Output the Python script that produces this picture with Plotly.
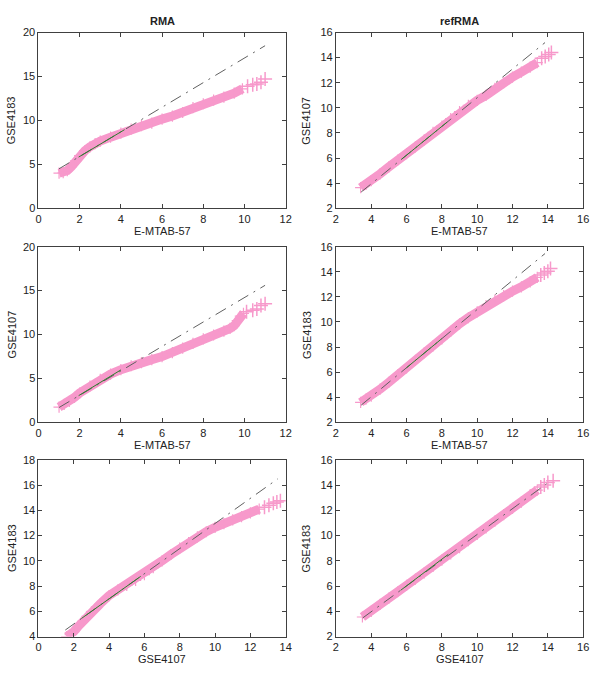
import plotly.graph_objects as go

# ---------------- data ----------------
col_titles = ["RMA", "refRMA"]
x_labels = ["E-MTAB-57", "E-MTAB-57", "E-MTAB-57", "E-MTAB-57", "GSE4107", "GSE4107"]
y_labels = ["GSE4183", "GSE4107", "GSE4107", "GSE4183", "GSE4183", "GSE4183"]

# Panel 1: RMA, E-MTAB-57 vs GSE4183
p1_x = [1.0, 1.2, 1.4, 1.6, 1.8, 2.0, 2.25, 2.5, 2.75, 3.0, 3.5, 4.0, 4.5, 5.0, 5.5, 6.0, 6.5, 7.0, 7.5, 8.0, 8.5, 9.0, 9.5, 9.9]
p1_y = [4.0, 4.05, 4.3, 4.75, 5.4, 6.0, 6.55, 7.0, 7.35, 7.65, 8.1, 8.55, 9.0, 9.4, 9.7, 10.15, 10.5, 10.9, 11.45, 11.9, 12.3, 12.65, 13.1, 13.6]
p1_tail_x = [10.15, 10.4, 10.6, 10.8, 11.0]
p1_tail_y = [13.9, 14.05, 14.15, 14.35, 14.7]
p1_ref_x = [1.0, 11.0]
p1_ref_y = [4.5, 18.5]
p1_iqr_x = [1.95, 4.18]
p1_iqr_y = [5.83, 8.95]

# Panel 2: refRMA, E-MTAB-57 vs GSE4107
p2_x = [3.4, 3.7, 4.0, 4.5, 5.0, 5.5, 6.0, 6.5, 7.0, 7.5, 8.0, 8.5, 9.0, 9.5, 10.0, 10.5, 11.0, 11.5, 12.0, 12.5, 13.0, 13.4]
p2_y = [3.65, 3.9, 4.2, 4.75, 5.3, 5.85, 6.35, 6.9, 7.45, 8.05, 8.55, 9.15, 9.7, 10.2, 10.6, 11.0, 11.55, 12.0, 12.45, 12.85, 13.25, 13.6]
p2_tail_x = [13.65, 13.85, 14.05, 14.2]
p2_tail_y = [13.95, 14.1, 14.25, 14.4]
p2_ref_x = [3.43, 13.84]
p2_ref_y = [3.3, 15.2]
p2_iqr_x = [5.7, 8.3]
p2_iqr_y = [5.89, 8.87]

# Panel 3: RMA, E-MTAB-57 vs GSE4107
p3_x = [1.0, 1.25, 1.5, 1.75, 2.0, 2.5, 3.0, 3.5, 4.0, 4.5, 5.0, 5.5, 6.0, 6.5, 7.0, 7.5, 8.0, 8.5, 9.0, 9.3, 9.5, 9.65, 9.8, 9.95]
p3_y = [1.75, 2.05, 2.4, 2.85, 3.35, 4.15, 4.9, 5.5, 6.0, 6.45, 6.8, 7.15, 7.5, 7.95, 8.45, 9.0, 9.5, 9.95, 10.4, 10.7, 11.0, 11.6, 12.1, 12.4]
p3_tail_x = [10.1, 10.4, 10.6, 10.8, 11.0]
p3_tail_y = [12.6, 12.75, 12.9, 13.3, 13.5]
p3_ref_x = [1.0, 11.0]
p3_ref_y = [1.7, 15.6]
p3_iqr_x = [1.95, 4.0]
p3_iqr_y = [3.05, 5.98]

# Panel 4: refRMA, E-MTAB-57 vs GSE4183
p4_x = [3.4, 3.7, 4.0, 4.5, 5.0, 5.5, 6.0, 6.5, 7.0, 7.5, 8.0, 8.5, 9.0, 9.5, 10.0, 10.5, 11.0, 11.5, 12.0, 12.5, 13.0, 13.4]
p4_y = [3.6, 3.85, 4.1, 4.65, 5.2, 5.8, 6.35, 6.95, 7.55, 8.1, 8.65, 9.25, 9.85, 10.35, 10.8, 11.3, 11.75, 12.1, 12.45, 12.8, 13.2, 13.55]
p4_tail_x = [13.6, 13.8, 14.0, 14.15]
p4_tail_y = [13.75, 13.9, 14.05, 14.25]
p4_ref_x = [3.43, 13.84]
p4_ref_y = [3.38, 15.45]
p4_iqr_x = [6.0, 8.0]
p4_iqr_y = [6.36, 8.68]

# Panel 5: RMA, GSE4107 vs GSE4183
p5_x = [1.6, 1.8, 2.0, 2.25, 2.5, 2.75, 3.0, 3.5, 4.0, 4.5, 5.0, 5.5, 6.0, 6.5, 7.0, 7.5, 8.0, 8.5, 9.0, 9.5, 10.0, 10.5, 11.0, 11.5, 12.0, 12.5]
p5_y = [4.0, 4.15, 4.4, 4.8, 5.2, 5.6, 5.95, 6.6, 7.25, 7.7, 8.05, 8.45, 8.9, 9.45, 10.0, 10.5, 11.0, 11.45, 11.9, 12.3, 12.65, 12.95, 13.25, 13.5, 13.8, 14.1]
p5_tail_x = [12.8, 13.05, 13.3, 13.5, 13.7]
p5_tail_y = [14.25, 14.4, 14.55, 14.65, 14.75]
p5_ref_x = [1.52, 13.55]
p5_ref_y = [4.52, 16.49]
p5_iqr_x = [2.45, 5.79]
p5_iqr_y = [5.45, 8.77]

# Panel 6: refRMA, GSE4107 vs GSE4183
p6_x = [3.5, 4.0, 4.5, 5.0, 5.5, 6.0, 6.5, 7.0, 7.5, 8.0, 8.5, 9.0, 9.5, 10.0, 10.5, 11.0, 11.5, 12.0, 12.5, 13.0, 13.4]
p6_y = [3.55, 4.0, 4.55, 5.05, 5.55, 6.05, 6.55, 7.05, 7.55, 8.05, 8.55, 9.05, 9.6, 10.1, 10.6, 11.15, 11.65, 12.15, 12.65, 13.25, 13.6]
p6_tail_x = [13.6, 13.8, 14.0, 14.3]
p6_tail_y = [13.85, 14.0, 14.2, 14.35]
p6_ref_x = [3.52, 13.93]
p6_ref_y = [3.48, 14.1]
p6_iqr_x = [5.66, 8.36]
p6_iqr_y = [5.66, 8.51]

x_ranges = [[0, 12], [2, 16], [0, 12], [2, 16], [0, 14], [2, 16]]
y_ranges = [[0, 20], [2, 16], [0, 20], [2, 16], [4, 18], [2, 16]]
y_dticks = [5, 2, 5, 2, 2, 2]

panels = [
    (p1_x, p1_y, p1_tail_x, p1_tail_y, p1_ref_x, p1_ref_y, p1_iqr_x, p1_iqr_y),
    (p2_x, p2_y, p2_tail_x, p2_tail_y, p2_ref_x, p2_ref_y, p2_iqr_x, p2_iqr_y),
    (p3_x, p3_y, p3_tail_x, p3_tail_y, p3_ref_x, p3_ref_y, p3_iqr_x, p3_iqr_y),
    (p4_x, p4_y, p4_tail_x, p4_tail_y, p4_ref_x, p4_ref_y, p4_iqr_x, p4_iqr_y),
    (p5_x, p5_y, p5_tail_x, p5_tail_y, p5_ref_x, p5_ref_y, p5_iqr_x, p5_iqr_y),
    (p6_x, p6_y, p6_tail_x, p6_tail_y, p6_ref_x, p6_ref_y, p6_iqr_x, p6_iqr_y),
]

# ---------------- layout geometry (page pixels) ----------------
W, H = 600, 675
col_px = [(36, 287), (338, 589)]
row_px = [(27, 206), (245, 424), (462, 642)]
xlabel_px = [229, 447, 665]
ylabel_x_px = [9, 308]
title_y_px = 15

PINK = "#f799cb"
FONT = "Liberation Sans, Arial, sans-serif"
TXT = "#222222"
AXC = "#404040"

fig = go.Figure()
layout = dict(
    width=W, height=H, autosize=False,
    margin=dict(l=0, r=0, t=0, b=0),
    paper_bgcolor="white", plot_bgcolor="white",
    showlegend=False, hovermode=False,
    font=dict(family=FONT, size=11, color=TXT),
)
annotations = []

for i, (bx, by, tx, ty, rx, ry, qx, qy) in enumerate(panels):
    r, c = divmod(i, 2)
    xa = "x" if i == 0 else f"x{i+1}"
    ya = "y" if i == 0 else f"y{i+1}"
    # band of quantile points
    fig.add_trace(go.Scatter(
        x=bx, y=by, xaxis=xa, yaxis=ya, mode="lines+markers",
        line=dict(color=PINK, width=9),
        marker=dict(symbol="cross-thin", size=8, line=dict(color=PINK, width=1.2)),
        hoverinfo="skip"))
    # tail quantile points
    fig.add_trace(go.Scatter(
        x=tx, y=ty, xaxis=xa, yaxis=ya, mode="markers",
        marker=dict(symbol="cross-thin", size=10, line=dict(color=PINK, width=1.5)),
        hoverinfo="skip"))
    # extended reference line
    fig.add_trace(go.Scatter(
        x=rx, y=ry, xaxis=xa, yaxis=ya, mode="lines",
        line=dict(color="#606060", width=1, dash="12px,6px,2px,6px"),
        hoverinfo="skip"))
    # interquartile segment
    fig.add_trace(go.Scatter(
        x=qx, y=qy, xaxis=xa, yaxis=ya, mode="lines",
        line=dict(color="#2f7f2f", width=1),
        hoverinfo="skip"))

    x0, x1 = col_px[c]
    top, bot = row_px[r]
    axis_common = dict(
        showline=True, linecolor=AXC, linewidth=1, mirror="ticks",
        ticks="inside", ticklen=4, tickcolor=AXC, tickwidth=1,
        showgrid=False, zeroline=False,
        tickfont=dict(family=FONT, size=11, color=TXT),
    )
    layout["xaxis" if i == 0 else f"xaxis{i+1}"] = dict(
        domain=[x0 / W, x1 / W], anchor=ya, range=x_ranges[i], dtick=2,
        tick0=0, **axis_common)
    layout["yaxis" if i == 0 else f"yaxis{i+1}"] = dict(
        domain=[1 - bot / H, 1 - top / H], anchor=xa, range=y_ranges[i],
        dtick=y_dticks[i], tick0=0, **axis_common)

    annotations.append(dict(
        text=x_labels[i], xref="paper", yref="paper",
        x=(x0 + x1) / 2 / W, y=1 - xlabel_px[r] / H,
        xanchor="center", yanchor="middle", showarrow=False,
        font=dict(family=FONT, size=11, color=TXT)))
    annotations.append(dict(
        text=y_labels[i], xref="paper", yref="paper",
        x=ylabel_x_px[c] / W, y=1 - (top + bot) / 2 / H, textangle=-90,
        xanchor="center", yanchor="middle", showarrow=False,
        font=dict(family=FONT, size=11, color=TXT)))

for c, t in enumerate(col_titles):
    x0, x1 = col_px[c]
    annotations.append(dict(
        text=f"<b>{t}</b>", xref="paper", yref="paper",
        x=(x0 + x1) / 2 / W, y=1 - title_y_px / H,
        xanchor="center", yanchor="middle", showarrow=False,
        font=dict(family=FONT, size=11, color=TXT)))

layout["annotations"] = annotations
fig.update_layout(**layout)
fig.write_html(
    "out.html",
    config={"displayModeBar": False, "staticPlot": True},
    post_script="document.body.style.margin='0';document.body.style.padding='0';"
                "document.documentElement.style.overflow='hidden';",
)
